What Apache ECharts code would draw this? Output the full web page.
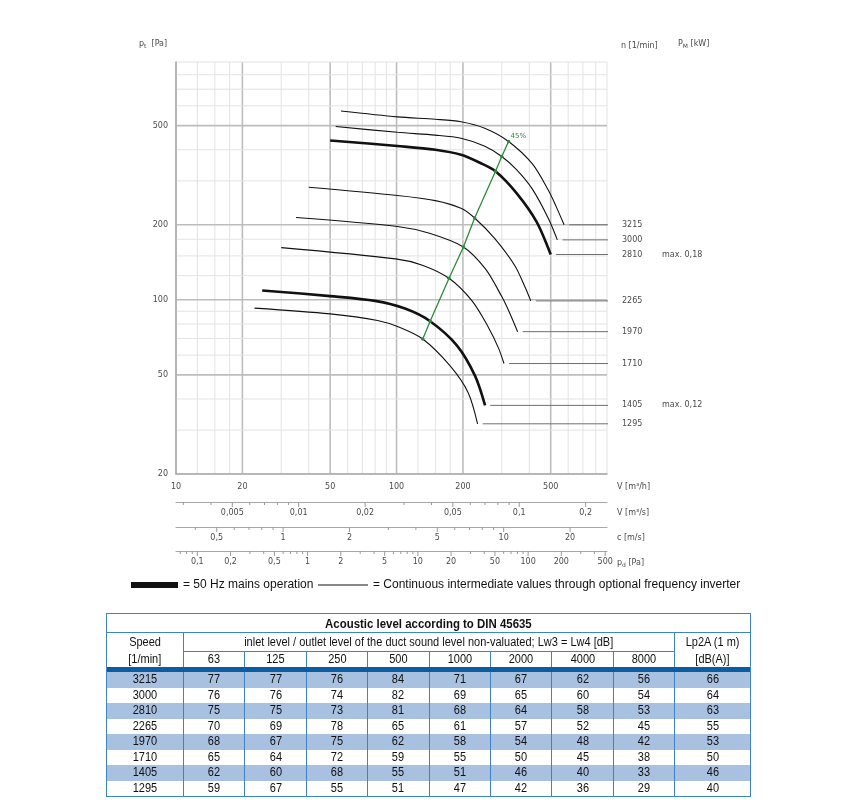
<!DOCTYPE html>
<html>
<head>
<meta charset="utf-8">
<title>Fan curves</title>
<script src="https://cdn.jsdelivr.net/npm/echarts@6.0.0/dist/echarts.min.js"></script>
<style>
  body { margin: 0; background: #fff; }
  #chart { position: absolute; left: 0; top: 0; width: 854px; height: 800px; }
  #acoustic {
    position: absolute; left: 106px; top: 613px; width: 644px;
    border-collapse: collapse; table-layout: fixed;
    font-family: 'Liberation Sans', Arial, sans-serif;
    font-size: 12.5px; color: #111; text-align: center;
    border: 1.5px solid #3d84c6;
  }
  #acoustic td { padding: 0; line-height: 15px; white-space: nowrap; overflow: visible; border-left: 1px solid #3d84c6; border-right: 1px solid #3d84c6; }
  #acoustic td span { display: inline-block; transform: scaleX(0.88); }
  #acoustic .title td { font-weight: bold; font-size: 13px; height: 18px; border-bottom: 1px solid #3d84c6; }
  #acoustic .head1 td { height: 18px; }
  #acoustic .head1 td.band { border-bottom: 1px solid #3d84c6; }
  #acoustic .head2 td { height: 14px; }
  #acoustic .bar td { height: 5px; background: #0a5ca3; line-height: 5px; font-size: 0; }
  #acoustic .row td { height: 15.5px; }
  #acoustic .row.odd td { background: #a9c1e1; }
</style>
</head>
<body>
<div id="chart"></div>
<table id="acoustic"></table>
<script>
// ---- curve data: [V m3/h, pt Pa] ----
const speeds = [3215, 3000, 2810, 2265, 1970, 1710, 1405, 1295];
const mainsOperation = [false, false, true, false, false, false, true, false];
const motorPower = ['', '', 'max. 0,18', '', '', '', 'max. 0,12', ''];

const curve3215 = [[56, 572], [101, 542], [150, 530], [196, 518], [251, 488], [322, 432], [413, 351], [488, 275], [530, 236], [575, 200]];
const curve3000 = [[53, 496], [101, 470], [150, 458], [196, 445], [250, 414], [300, 376], [350, 333], [413, 278], [488, 212], [536, 174]];
const curve2810 = [[50, 436], [101, 414], [150, 400], [196, 382], [240, 354], [281, 328], [350, 268], [431, 206], [500, 152]];
const curve2265 = [[40, 283], [101, 262], [150, 250], [196, 233], [226, 213], [279, 176], [344, 137], [385, 111], [406, 99]];
const curve1970 = [[35, 214], [101, 197], [141, 185], [201, 163], [253, 133], [300, 103], [325, 89], [354, 74.5]];
const curve1710 = [[30, 162], [99, 146], [130, 138], [173, 122], [220, 99], [260, 78], [290, 64], [307, 55.5]];
const curve1405 = [[24.6, 109], [50, 103.5], [80, 99], [110, 92], [142, 82], [188, 65.5], [227, 49.5], [252, 37.7]];
const curve1295 = [[22.7, 92.6], [50, 87.8], [82, 82.6], [103, 77.6], [131.5, 69.6], [175, 54.3], [211, 42.5], [233, 31.8]];
const curves = [curve3215, curve3000, curve2810, curve2265, curve1970, curve1710, curve1405, curve1295];

// 45 % efficiency line (points on the curves)
const efficiency45 = [[131.5, 69.6], [142, 82], [173, 122], [201, 163], [226, 213], [281, 328], [300, 376], [322, 432]];

// ---- axes ----
const flowMin = 10, flowMax = 900;      // m3/h
const pressMin = 20, pressMax = 900;    // Pa
const flowGrid = [10, 12.5, 15, 17.5, 20, 30, 40, 50, 60, 70, 80, 90, 100, 125, 150, 175, 200, 300, 400, 500, 600, 700, 800, 900];
const flowMajor = [10, 20, 50, 100, 200, 500];
const flowLabels = [10, 20, 50, 100, 200, 500];
const pressGrid = [20, 30, 40, 50, 60, 70, 80, 90, 100, 125, 150, 175, 200, 300, 400, 500, 600, 700, 800, 900];
const pressMajor = [20, 50, 100, 200, 500];
const pressLabels = [20, 50, 100, 200, 500];

const m3sLabels = [0.005, 0.01, 0.02, 0.05, 0.1, 0.2];
const velocityLabels = [0.5, 1, 2, 5, 10, 20];
const dynPressLabels = [0.1, 0.2, 0.5, 1, 2, 5, 10, 20, 50, 100, 200, 500];
const m3hPerMs = 30.6;   // duct: 1 m/s = 30.6 m3/h
const halfRho = 0.6;     // pd = 0.6 * c^2

// ---- acoustic table ----
const octaveBands = ['63', '125', '250', '500', '1000', '2000', '4000', '8000'];
const bandLevels = [
  [77, 77, 76, 84, 71, 67, 62, 56],
  [76, 76, 74, 82, 69, 65, 60, 54],
  [75, 75, 73, 81, 68, 64, 58, 53],
  [70, 69, 78, 65, 61, 57, 52, 45],
  [68, 67, 75, 62, 58, 54, 48, 42],
  [65, 64, 72, 59, 55, 50, 45, 38],
  [62, 60, 68, 55, 51, 46, 40, 33],
  [59, 67, 55, 51, 47, 42, 36, 29]
];
const lp2a = [66, 64, 63, 55, 53, 50, 46, 40];

const thickName = '= 50 Hz mains operation';
const thinName = '= Continuous intermediate values through optional frequency inverter';
const smallFont = 'DejaVu Sans';

function decadeTicks(lo, hi) {
  const out = [];
  for (let e = Math.floor(Math.log10(lo)); e <= Math.ceil(Math.log10(hi)); e++) {
    for (let m = 1; m < 10; m++) {
      const v = +(m * Math.pow(10, e)).toPrecision(6);
      if (v >= lo && v <= hi) out.push(v);
    }
  }
  return out;
}
function near(list, v) {
  return list.some(l => Math.abs(l - v) / l < 1e-6);
}
function comma(v) {
  return String(v).replace('.', ',');
}
function cell(text, attrs) {
  return '<td' + (attrs || '') + '><span>' + text + '</span></td>';
}

document.addEventListener('DOMContentLoaded', function() {
  // table
  const table = document.getElementById('acoustic');
  let html = '<colgroup><col style="width:77px">' + octaveBands.map(() => '<col style="width:61.4px">').join('') + '<col style="width:76px"></colgroup>';
  html += '<tr class="title">' + cell('Acoustic level according to DIN 45635', ' colspan="10"') + '</tr>';
  html += '<tr class="head1">' + cell('Speed') +
    cell('inlet level / outlet level of the duct sound level non-valuated; Lw3 = Lw4 [dB]', ' class="band" colspan="8"') +
    cell('Lp2A (1 m)') + '</tr>';
  html += '<tr class="head2">' + cell('[1/min]') + octaveBands.map(b => cell(b)).join('') + cell('[dB(A)]') + '</tr>';
  html += '<tr class="bar"><td colspan="10"></td></tr>';
  speeds.forEach((s, i) => {
    html += '<tr class="row' + (i % 2 === 0 ? ' odd' : '') + '">' + cell(s) +
      bandLevels[i].map(v => cell(v)).join('') + cell(lp2a[i]) + '</tr>';
  });
  table.innerHTML = html;

  // chart
  const chart = echarts.init(document.getElementById('chart'));

  const labelStyle = { fill: '#4a4a4a', fontSize: 8, fontFamily: smallFont };

  function flowGridItem(params, api) {
    const v = api.value(0);
    const cs = params.coordSys;
    const x = api.coord([v, pressMin])[0];
    const major = near(flowMajor, v);
    const children = [{
      type: 'line',
      shape: { x1: x, y1: cs.y, x2: x, y2: cs.y + cs.height },
      style: { stroke: major ? '#bdbdbd' : '#e3e3e3', lineWidth: major ? 1.6 : 1 }
    }];
    if (near(flowLabels, v)) {
      children.push({ type: 'text', x: x, y: cs.y + cs.height + 13,
        style: Object.assign({ text: String(v), align: 'center', verticalAlign: 'middle' }, labelStyle) });
    }
    return { type: 'group', children: children };
  }

  function pressGridItem(params, api) {
    const v = api.value(1);
    const cs = params.coordSys;
    const y = api.coord([flowMin, v])[1];
    const major = near(pressMajor, v);
    const children = [{
      type: 'line',
      shape: { x1: cs.x, y1: y, x2: cs.x + cs.width, y2: y },
      style: { stroke: major ? '#bdbdbd' : '#e3e3e3', lineWidth: major ? 1.6 : 1 }
    }];
    if (near(pressLabels, v)) {
      children.push({ type: 'text', x: cs.x - 8, y: y,
        style: Object.assign({ text: String(v), align: 'right', verticalAlign: 'middle' }, labelStyle) });
    }
    return { type: 'group', children: children };
  }

  function scaleItem(labels, offset) {
    return function(params, api) {
      const v = api.value(0);
      const cs = params.coordSys;
      const x = api.coord([v, pressMin])[0];
      const y0 = cs.y + cs.height + offset;
      const isLabel = near(labels, v);
      const children = [{
        type: 'line',
        shape: { x1: x, y1: y0, x2: x, y2: y0 + (isLabel ? 5 : 3) },
        style: { stroke: '#9a9a9a', lineWidth: 1 }
      }];
      if (isLabel) {
        children.push({ type: 'text', x: x, y: y0 + 11,
          style: Object.assign({ text: comma(v), align: 'center', verticalAlign: 'middle' }, labelStyle) });
      }
      return { type: 'group', children: children };
    };
  }

  const m3sMin = flowMin / 3600, m3sMax = flowMax / 3600;
  const cMin = flowMin / m3hPerMs, cMax = flowMax / m3hPerMs;
  const pdMin = halfRho * cMin * cMin, pdMax = halfRho * cMax * cMax;

  function secondAxis(min, max, offset, name) {
    return {
      type: 'log', logBase: 10, min: min, max: max, position: 'bottom', offset: offset,
      axisLine: { show: true, lineStyle: { color: '#a8a8a8', width: 1 } },
      axisTick: { show: false }, axisLabel: { show: false }, splitLine: { show: false },
      name: name, nameLocation: 'end', nameGap: 10,
      nameTextStyle: {
        color: '#4a4a4a', fontSize: 8, fontFamily: smallFont, verticalAlign: 'top', padding: [7, 0, 0, 0],
        rich: { s: { fontSize: 6, fontFamily: smallFont, color: '#4a4a4a', padding: [4, 0, 0, 0] } }
      }
    };
  }

  const series = [
    { type: 'custom', name: 'flowGrid', xAxisIndex: 0, yAxisIndex: 0, silent: true, z: 0,
      data: flowGrid.map(v => [v, pressMin]), renderItem: flowGridItem },
    { type: 'custom', name: 'pressGrid', xAxisIndex: 0, yAxisIndex: 0, silent: true, z: 0,
      data: pressGrid.map(v => [flowMin, v]), renderItem: pressGridItem },
    { type: 'custom', name: 'm3s', xAxisIndex: 1, yAxisIndex: 0, silent: true,
      data: decadeTicks(m3sMin, m3sMax).map(v => [v, pressMin]), renderItem: scaleItem(m3sLabels, 28) },
    { type: 'custom', name: 'velocity', xAxisIndex: 2, yAxisIndex: 0, silent: true,
      data: decadeTicks(cMin, cMax).map(v => [v, pressMin]), renderItem: scaleItem(velocityLabels, 53) },
    { type: 'custom', name: 'dynPress', xAxisIndex: 3, yAxisIndex: 0, silent: true,
      data: decadeTicks(pdMin, pdMax).map(v => [v, pressMin]), renderItem: scaleItem(dynPressLabels, 77) }
  ];

  const leaderEnd = 965;
  curves.forEach((pts, i) => {
    const thick = mainsOperation[i];
    series.push({
      name: thick ? thickName : thinName, type: 'line', data: pts,
      smooth: 0.3, symbol: 'none', silent: true, z: 3,
      lineStyle: { color: '#111', width: thick ? 2.6 : 1.1 }, itemStyle: { color: '#111' }
    });
    const end = pts[pts.length - 1];
    series.push({
      type: 'line', data: [[end[0] * 1.055, end[1]], [leaderEnd, end[1]]],
      symbol: 'none', clip: false, silent: true, z: 2,
      lineStyle: { color: '#6f6f6f', width: 1 },
      endLabel: {
        show: true, distance: 14,
        formatter: '{s|' + speeds[i] + '}{m|' + motorPower[i] + '}',
        rich: {
          s: { width: 40, fontSize: 8, fontFamily: smallFont, color: '#4a4a4a' },
          m: { fontSize: 8, fontFamily: smallFont, color: '#4a4a4a' }
        }
      }
    });
  });

  series.push({
    type: 'line', name: '45%', data: efficiency45, silent: true, z: 4,
    symbol: 'circle', symbolSize: 3.5,
    lineStyle: { color: '#2f8a3c', width: 1.3 }, itemStyle: { color: '#2f8a3c' },
    endLabel: { show: true, formatter: '45%', distance: 2, offset: [0, -5], color: '#2f8a3c', fontSize: 7, fontFamily: smallFont }
  });

  const option = {
    animation: false,
    grid: { left: 176, right: 247, top: 62, bottom: 326 },
    xAxis: [
      {
        type: 'log', logBase: 10, min: flowMin, max: flowMax,
        axisLine: { show: true, lineStyle: { color: '#b0b0b0', width: 1.6 } },
        axisTick: { show: false }, axisLabel: { show: false }, splitLine: { show: false },
        name: 'V [m³/h]', nameLocation: 'end', nameGap: 10,
        nameTextStyle: { color: '#4a4a4a', fontSize: 8, fontFamily: smallFont, verticalAlign: 'top', padding: [9, 0, 0, 0] }
      },
      secondAxis(m3sMin, m3sMax, 28, 'V [m³/s]'),
      secondAxis(cMin, cMax, 53, 'c [m/s]'),
      secondAxis(pdMin, pdMax, 77, 'p{s|d} [Pa]')
    ],
    yAxis: {
      type: 'log', logBase: 10, min: pressMin, max: pressMax,
      axisLine: { show: true, lineStyle: { color: '#b0b0b0', width: 1.6 } },
      axisTick: { show: false }, axisLabel: { show: false }, splitLine: { show: false }
    },
    legend: [
      { left: 131, top: 579, padding: 0, icon: 'rect', itemWidth: 47, itemHeight: 6, selectedMode: false,
        data: [thickName], textStyle: { color: '#111', fontSize: 12, fontFamily: 'Liberation Sans' } },
      { left: 318, top: 579, padding: 0, icon: 'rect', itemWidth: 50, itemHeight: 1.2, selectedMode: false,
        data: [thinName], textStyle: { color: '#111', fontSize: 12, fontFamily: 'Liberation Sans' } }
    ],
    graphic: [
      { type: 'text', left: 139, top: 40, silent: true,
        style: { text: 'p{s|t}  [Pa]', fill: '#4a4a4a', fontSize: 8, fontFamily: smallFont,
          rich: { s: { fontSize: 6, fontFamily: smallFont, fill: '#4a4a4a', padding: [4, 0, 0, 0] } } } },
      { type: 'text', left: 621, top: 42, silent: true,
        style: { text: 'n [1/min]', fill: '#4a4a4a', fontSize: 8, fontFamily: smallFont } },
      { type: 'text', left: 678, top: 40, silent: true,
        style: { text: 'P{s|M} [kW]', fill: '#4a4a4a', fontSize: 8, fontFamily: smallFont,
          rich: { s: { fontSize: 6, fontFamily: smallFont, fill: '#4a4a4a', padding: [4, 0, 0, 0] } } } }
    ],
    series: series
  };
  chart.setOption(option);
});
</script>
</body>
</html>
